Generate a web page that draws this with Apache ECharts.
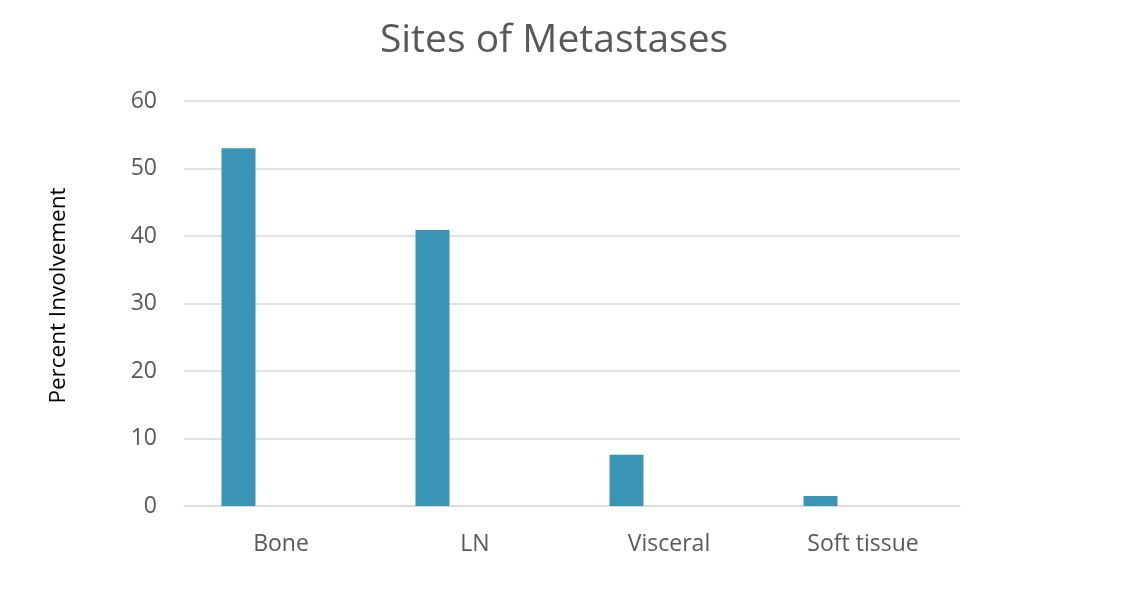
<!DOCTYPE html>
<html>
<head>
<meta charset="utf-8">
<script src="https://cdn.jsdelivr.net/npm/echarts@6/dist/echarts.min.js"></script>
<style>html,body{margin:0;padding:0;background:#fff;}#c{width:1148px;height:608px;}</style>
</head>
<body>
<div id="c"></div>
<script>
const categories = ['Bone', 'LN', 'Visceral', 'Soft tissue'];
const percentInvolvement = [53, 40.9, 7.6, 1.5];
const emptySeries = [null, null, null, null];
const yTicks = { min: 0, max: 60, interval: 10 };

const chart = echarts.init(document.getElementById('c'));
const font = '"Open Sans", sans-serif';
chart.setOption({
  animation: false,
  backgroundColor: '#fff',
  title: {
    text: 'Sites of Metastases',
    left: 549, top: 16, textAlign: 'center',
    textStyle: { fontFamily: font, fontSize: 39, fontWeight: 'normal', color: '#595959' }
  },
  grid: { left: 184, right: 188, top: 101, bottom: 102 },
  xAxis: {
    type: 'category', data: categories,
    axisLine: { show: true, lineStyle: { color: '#d9d9d9', width: 1.5 } },
    axisTick: { show: false },
    axisLabel: { fontFamily: font, fontSize: 23, color: '#595959', margin: 27 }
  },
  yAxis: {
    type: 'value', min: yTicks.min, max: yTicks.max, interval: yTicks.interval,
    name: 'Percent Involvement', nameLocation: 'middle', nameGap: 114, nameRotate: 90,
    nameTextStyle: { fontFamily: font, fontSize: 22.5, color: '#000', padding: [0, 0, 0, 16] },
    axisLine: { show: false }, axisTick: { show: false },
    axisLabel: { fontFamily: font, fontSize: 23, color: '#595959', margin: 27 },
    splitLine: { lineStyle: { color: '#d9d9d9', width: 1.5 } }
  },
  series: [
    { type: 'bar', data: percentInvolvement, barWidth: 34, barGap: '150%', itemStyle: { color: '#3a94b6' } },
    { type: 'bar', data: emptySeries, barWidth: 34, itemStyle: { color: '#3a94b6' } }
  ]
});
</script>
</body>
</html>
